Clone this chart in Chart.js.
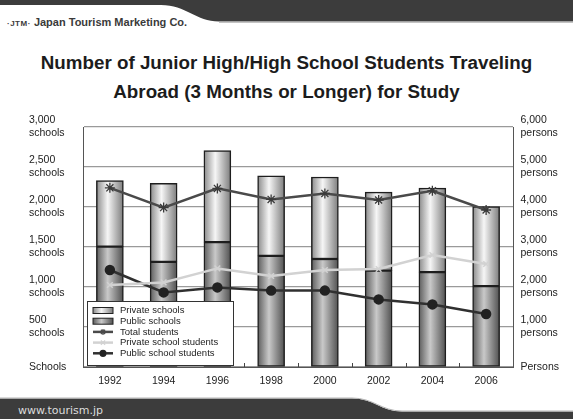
<!DOCTYPE html>
<html>
<head>
<meta charset="utf-8">
<script src="https://cdn.jsdelivr.net/npm/chart.js@4.4.1/dist/chart.umd.min.js"></script>
<style>
  html, body { margin: 0; padding: 0; background: #fff; }
  #page { position: relative; width: 573px; height: 419px; overflow: hidden; }
  #bands { position: absolute; left: 0; top: 0; }
  #brand { position: absolute; left: 7px; top: 16px; font: bold 11px "Liberation Sans", Arial, sans-serif; color: #3a3a3a; white-space: nowrap; }
  #brand small { font-size: 8px; letter-spacing: 0.5px; }
  #site { position: absolute; left: 18px; top: 404px; font: 11px "DejaVu Sans", sans-serif; color: #dcdcdc; }
  #title { position: absolute; left: 0; top: 47.5px; width: 573px; text-align: center; font: bold 18.8px/29px "Liberation Sans", Arial, sans-serif; color: #1c1c1c; }
  #wrap { position: absolute; left: 0; top: 0; width: 573px; height: 419px; }
</style>
</head>
<body>
<div id="page">
  <svg id="bands" width="573" height="419">
    <path d="M0,0 H573 V21.5 H219 C196,21.5 186,5 161,5 H0 Z" fill="#3c3c3c"/>
    <path d="M219,22.3 H573" stroke="#b5b5b5" stroke-width="1"/>
    <path d="M0,398.5 H352 C374,398.5 381,411.5 402,411.5 H573 V419 H0 Z" fill="#3c3c3c"/>
    <path d="M0,398 H352 C374,398 381,411 402,411 H573" fill="none" stroke="#b5b5b5" stroke-width="1"/>
  </svg>
  <div id="brand"><small>·JTM·</small> Japan Tourism Marketing Co.</div>
  <div id="title"></div>
  <div id="site">www.tourism.jp</div>
  <div id="wrap"><canvas id="studyChart"></canvas></div>
</div>
<script>
  var years = ["1992", "1994", "1996", "1998", "2000", "2002", "2004", "2006"];
  // schools (left axis)
  var publicSchools = [1505, 1315, 1560, 1390, 1350, 1205, 1185, 1010];
  var privateSchools = [825, 980, 1145, 1000, 1025, 980, 1050, 995];
  // students (right axis)
  var totalStudents = [4480, 3985, 4465, 4190, 4340, 4175, 4405, 3925];
  var privateStudents = [2050, 2115, 2465, 2275, 2425, 2450, 2800, 2575];
  var publicStudents = [2425, 1865, 1990, 1910, 1910, 1690, 1565, 1325];

  var schoolUnit = "schools", schoolZero = "Schools";
  var personUnit = "persons", personZero = "Persons";
  var titleLines = ["Number of Junior High/High School Students Traveling",
                    "Abroad (3 Months or Longer) for Study"];

  document.getElementById("title").innerHTML = titleLines.join("<br>");

  var BAR_W = 27;
  var FONT = "'Liberation Sans', Arial, sans-serif";

  function cylinder(ctx, x0, x1, light) {
    var g = ctx.createLinearGradient(x0, 0, x1, 0);
    if (light) {
      g.addColorStop(0, "#8a8a8a");
      g.addColorStop(0.42, "#f6f6f6");
      g.addColorStop(1, "#7c7c7c");
    } else {
      g.addColorStop(0, "#5c5c5c");
      g.addColorStop(0.42, "#c9c9c9");
      g.addColorStop(1, "#505050");
    }
    return g;
  }

  function barFill(light) {
    return function (context) {
      var chart = context.chart;
      if (!chart.chartArea || context.dataIndex === undefined) return light ? "#ddd" : "#999";
      var x = chart.scales.x.getPixelForValue(context.dataIndex);
      return cylinder(chart.ctx, x - BAR_W / 2, x + BAR_W / 2, light);
    };
  }

  function unitLabel(unit, zero) {
    return function (value) {
      if (value === 0) return zero;
      return [value.toLocaleString("en-US"), unit];
    };
  }

  // legend box drawn inside the plot, lower left
  var boxLegend = {
    id: "boxLegend",
    afterDatasetsDraw: function (chart) {
      var ctx = chart.ctx;
      var area = chart.chartArea;
      var left = area.left + 4, top = area.bottom - 66, w = 146, h = 64;
      var ds = chart.data.datasets;
      var order = [1, 0, 2, 3, 4];
      ctx.save();
      ctx.fillStyle = "#fff";
      ctx.fillRect(left, top, w, h);
      ctx.strokeStyle = "#333";
      ctx.lineWidth = 1;
      ctx.strokeRect(left + 0.5, top + 0.5, w, h);
      ctx.font = "9.5px " + FONT;
      ctx.textBaseline = "middle";
      order.forEach(function (idx, row) {
        var d = ds[idx];
        var y = top + 9.5 + row * 10.7;
        var sx = left + 6, ex = left + 26;
        if (d.type === "bar") {
          ctx.fillStyle = cylinder(ctx, sx, ex, idx === 1);
          ctx.fillRect(sx, y - 3, ex - sx, 6);
          ctx.strokeStyle = "#222";
          ctx.strokeRect(sx, y - 3, ex - sx, 6);
        } else {
          ctx.strokeStyle = d.borderColor;
          ctx.lineWidth = 2.5;
          ctx.beginPath();
          ctx.moveTo(sx, y);
          ctx.lineTo(ex, y);
          ctx.stroke();
          ctx.lineWidth = 1.2;
          Chart.helpers.drawPoint(ctx, {
            pointStyle: d.pointStyle,
            radius: 3,
            borderWidth: 1.2,
            rotation: 0
          }, (sx + ex) / 2, y);
          if (d.pointStyle === "circle") {
            ctx.fillStyle = d.pointBackgroundColor;
            ctx.beginPath();
            ctx.arc((sx + ex) / 2, y, 3, 0, Math.PI * 2);
            ctx.fill();
          }
        }
        ctx.fillStyle = "#222";
        ctx.fillText(d.label, left + 33, y);
      });
      ctx.restore();
    },
    afterDraw: function (chart) {
      // short inward ticks between categories
      var ctx = chart.ctx, area = chart.chartArea, xs = chart.scales.x;
      ctx.save();
      ctx.strokeStyle = "#444";
      ctx.lineWidth = 1;
      for (var i = 1; i < years.length; i++) {
        var bx = Math.round((xs.getPixelForValue(i - 1) + xs.getPixelForValue(i)) / 2) + 0.5;
        if (bx < area.left + 152) continue;
        ctx.beginPath();
        ctx.moveTo(bx, area.bottom - 4);
        ctx.lineTo(bx, area.bottom);
        ctx.stroke();
      }
      ctx.restore();
    }
  };

  var ctx = document.getElementById("studyChart").getContext("2d");
  var studyChart = new Chart(ctx, {
    data: {
      labels: years,
      datasets: [{
        type: "bar",
        label: "Public schools",
        data: publicSchools,
        yAxisID: "ySchools",
        backgroundColor: barFill(false),
        borderColor: "#1e1e1e",
        borderWidth: 1.5,
        borderSkipped: false,
        barThickness: BAR_W,
        order: 2
      }, {
        type: "bar",
        label: "Private schools",
        data: privateSchools,
        yAxisID: "ySchools",
        backgroundColor: barFill(true),
        borderColor: "#1e1e1e",
        borderWidth: 1.5,
        borderSkipped: false,
        barThickness: BAR_W,
        order: 2
      }, {
        type: "line",
        label: "Total students",
        data: totalStudents,
        yAxisID: "yPersons",
        borderColor: "#4a4a4a",
        borderWidth: 2.5,
        pointStyle: "star",
        pointRadius: 5,
        pointBorderColor: "#3a3a3a",
        pointBorderWidth: 1.3,
        pointBackgroundColor: "#3a3a3a",
        tension: 0,
        order: 1
      }, {
        type: "line",
        label: "Private school students",
        data: privateStudents,
        yAxisID: "yPersons",
        borderColor: "#d2d2d2",
        borderWidth: 2.5,
        pointStyle: "crossRot",
        pointRadius: 4,
        pointBorderColor: "#d2d2d2",
        pointBorderWidth: 1.5,
        tension: 0,
        order: 1
      }, {
        type: "line",
        label: "Public school students",
        data: publicStudents,
        yAxisID: "yPersons",
        borderColor: "#303030",
        borderWidth: 2.5,
        pointStyle: "circle",
        pointRadius: 4,
        pointBackgroundColor: "#222",
        pointBorderColor: "#222",
        tension: 0,
        order: 1
      }]
    },
    options: {
      responsive: true,
      maintainAspectRatio: false,
      animation: false,
      layout: { padding: { left: 29, right: 0, top: 127, bottom: 0 } },
      plugins: {
        legend: { display: false },
        tooltip: { enabled: false }
      },
      scales: {
        x: {
          stacked: true,
          grid: { display: false, drawTicks: false },
          border: { display: true, color: "#555", width: 1 },
          ticks: { color: "#222", font: { family: FONT, size: 10.5 }, padding: 8 },
          afterFit: function (scale) { scale.height = 52; }
        },
        ySchools: {
          position: "left",
          stacked: true,
          min: 0,
          max: 3000,
          ticks: {
            stepSize: 500,
            color: "#222",
            crossAlign: "far",
            font: { family: FONT, size: 10.5, lineHeight: "13px" },
            callback: unitLabel(schoolUnit, schoolZero)
          },
          grid: { color: "#9a9a9a", lineWidth: 1.2, drawTicks: false },
          border: { display: true, color: "#555", width: 1 },
          afterFit: function (scale) { scale.width = 54; }
        },
        yPersons: {
          position: "right",
          min: 0,
          max: 6000,
          ticks: {
            stepSize: 1000,
            color: "#222",
            padding: 7.5,
            font: { family: FONT, size: 10.5, lineHeight: "13px" },
            callback: unitLabel(personUnit, personZero)
          },
          grid: { display: false, drawTicks: false },
          border: { display: true, color: "#555", width: 1 },
          afterFit: function (scale) { scale.width = 60; }
        }
      }
    },
    plugins: [boxLegend]
  });
</script>
</body>
</html>
